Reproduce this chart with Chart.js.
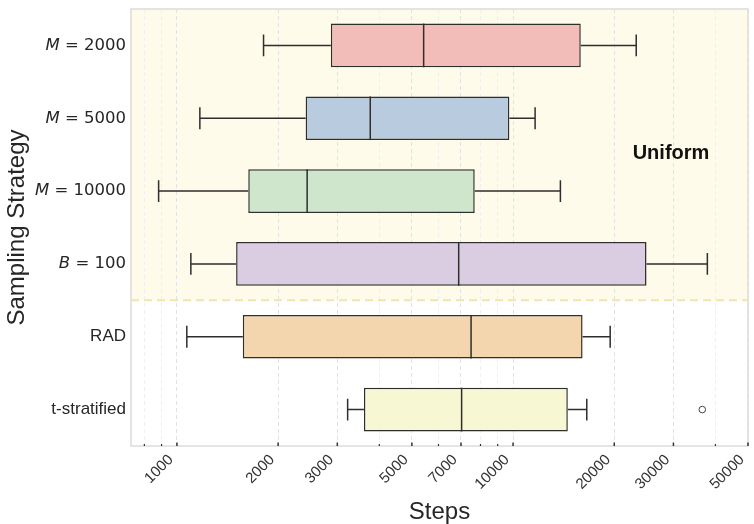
<!DOCTYPE html>
<html>
<head>
<meta charset="utf-8">
<script src="https://cdn.jsdelivr.net/npm/chart.js@4.4.1/dist/chart.umd.min.js"></script>
<style>
  html, body { margin: 0; padding: 0; background: #ffffff; }
  #wrap { width: 754px; height: 524px; position: relative; }
</style>
</head>
<body>
<div id="wrap"><canvas id="c" width="754" height="524"></canvas></div>
<script>
// ---- data ----
const categories = ["M = 2000", "M = 5000", "M = 10000", "B = 100", "RAD", "t-stratified"];
const whiskerLow  = [1810, 1170, 882, 1100, 1070, 3220];
const q1Values    = [2870, 2415, 1630, 1500, 1570, 3600];
const medianValues= [5420, 3760, 2440, 6890, 7500, 7030];
const q3Values    = [15900, 9750, 7690, 24950, 16100, 14550];
const whiskerHigh = [23250, 11630, 13830, 37850, 19450, 16570];
const outlierCats = [5];
const outlierValues = [36560];
const majorTicks = [1000, 2000, 3000, 5000, 7000, 10000, 20000, 30000, 50000];
const minorTicks = [800, 900, 4000, 6000, 8000, 9000, 40000];
const uniformCount = 4;
const boxColors = ["#f2bcb9", "#b9cbde", "#cfe6cc", "#dacde1", "#f3d5ae", "#f7f7d3"];

const allTicks = majorTicks.concat(minorTicks).sort((a,b)=>a-b);
const EDGE = "#2e2e2e";

const customPlugin = {
  id: "custom",
  beforeDraw(chart) {
    const {ctx, chartArea: a, scales: {x, y}} = chart;
    const yb = (y.getPixelForValue(uniformCount - 1) + y.getPixelForValue(uniformCount)) / 2;
    ctx.save();
    ctx.fillStyle = "#fefbea";
    ctx.fillRect(a.left, a.top, a.right - a.left, yb - a.top);
    ctx.restore();
  },
  beforeDatasetsDraw(chart) {
    const {ctx, chartArea: a, scales: {x, y}} = chart;
    const yb = (y.getPixelForValue(uniformCount - 1) + y.getPixelForValue(uniformCount)) / 2;
    ctx.save();
    ctx.strokeStyle = "#f1e4b3";
    ctx.lineWidth = 2;
    ctx.setLineDash([8, 5]);
    ctx.beginPath();
    ctx.moveTo(a.left, yb);
    ctx.lineTo(a.right, yb);
    ctx.stroke();
    ctx.setLineDash([]);
    ctx.strokeStyle = "#dcdcdc";
    ctx.lineWidth = 1.5;
    ctx.strokeRect(a.left, a.top, a.right - a.left, a.bottom - a.top);
    const meta = chart.getDatasetMeta(0);
    ctx.strokeStyle = EDGE;
    ctx.lineWidth = 1.5;
    for (let i = 0; i < categories.length; i++) {
      const bar = meta.data[i];
      const half = bar.height / 2;
      const cy = y.getPixelForValue(i);
      const xl = x.getPixelForValue(whiskerLow[i]);
      const x1 = x.getPixelForValue(q1Values[i]);
      const x3 = x.getPixelForValue(q3Values[i]);
      const xh = x.getPixelForValue(whiskerHigh[i]);
      ctx.beginPath();
      ctx.moveTo(xl, cy); ctx.lineTo(x1, cy);
      ctx.moveTo(x3, cy); ctx.lineTo(xh, cy);
      ctx.moveTo(xl, cy - half / 2); ctx.lineTo(xl, cy + half / 2);
      ctx.moveTo(xh, cy - half / 2); ctx.lineTo(xh, cy + half / 2);
      ctx.stroke();
    }
    ctx.restore();
  },
  afterDatasetsDraw(chart) {
    const {ctx, chartArea: a, scales: {x, y}} = chart;
    const meta = chart.getDatasetMeta(0);
    ctx.save();
    ctx.strokeStyle = EDGE;
    ctx.lineWidth = 1.5;
    for (let i = 0; i < categories.length; i++) {
      const bar = meta.data[i];
      const half = bar.height / 2;
      const cy = y.getPixelForValue(i);
      const xm = x.getPixelForValue(medianValues[i]);
      ctx.beginPath();
      ctx.moveTo(xm, cy - half); ctx.lineTo(xm, cy + half);
      ctx.stroke();
    }
    ctx.strokeStyle = "#444";
    ctx.lineWidth = 1;
    for (let k = 0; k < outlierValues.length; k++) {
      const px = x.getPixelForValue(outlierValues[k]);
      const py = y.getPixelForValue(outlierCats[k]);
      ctx.beginPath();
      ctx.arc(px, py, 3.3, 0, Math.PI * 2);
      ctx.stroke();
    }
    for (const t of allTicks) {
      const px = x.getPixelForValue(t);
      const major = majorTicks.includes(t);
      ctx.strokeStyle = "#333";
      ctx.lineWidth = major ? 1.5 : 1.2;
      ctx.beginPath();
      ctx.moveTo(px, a.bottom);
      ctx.lineTo(px, a.bottom - (major ? 3.5 : 2));
      ctx.stroke();
    }
    ctx.fillStyle = "#111";
    ctx.font = "bold 20px 'Liberation Sans', Arial, sans-serif";
    ctx.textAlign = "center";
    ctx.textBaseline = "alphabetic";
    ctx.fillText("Uniform", 671, 159);
    ctx.restore();
  },
  afterDraw(chart) {
    const {ctx, chartArea: a, scales: {y}} = chart;
    ctx.save();
    ctx.fillStyle = "#262626";
    ctx.textBaseline = "middle";
    for (let i = 0; i < categories.length; i++) {
      const cy = y.getPixelForValue(i);
      const label = categories[i];
      const right = a.left - 5;
      const m = label.match(/^([A-Za-z]) = (.*)$/);
      if (m) {
        ctx.font = "16.5px 'DejaVu Sans', sans-serif";
        const rest = " = " + m[2];
        const wRest = ctx.measureText(rest).width;
        ctx.textAlign = "left";
        ctx.fillText(rest, right - wRest, cy);
        ctx.font = "oblique 16.5px 'DejaVu Sans', sans-serif";
        const wV = ctx.measureText(m[1]).width;
        ctx.fillText(m[1], right - wRest - wV, cy);
      } else {
        ctx.font = "17px 'Liberation Sans', Arial, sans-serif";
        ctx.textAlign = "right";
        ctx.fillText(label, right, cy);
      }
    }
    ctx.translate(17, (a.top + a.bottom) / 2);
    ctx.rotate(-Math.PI / 2);
    ctx.font = "24px 'Liberation Sans', Arial, sans-serif";
    ctx.textAlign = "center";
    ctx.fillText("Sampling Strategy", 0, 0);
    ctx.restore();
  }
};

new Chart(document.getElementById("c"), {
  type: "bar",
  data: {
    labels: categories,
    datasets: [{
      data: q1Values.map((q, i) => [q, q3Values[i]]),
      backgroundColor: boxColors,
      borderColor: EDGE,
      borderWidth: 1.5,
      borderSkipped: false,
      barPercentage: 0.6,
      categoryPercentage: 1.0
    }]
  },
  options: {
    indexAxis: "y",
    responsive: false,
    animation: false,
    layout: { padding: { left: 131, right: 6, top: 9, bottom: 0 } },
    plugins: { legend: { display: false }, tooltip: { enabled: false } },
    scales: {
      x: {
        type: "logarithmic",
        min: 730,
        max: 50000,
        afterBuildTicks: (s) => { s.ticks = allTicks.map(v => ({ value: v })); },
        afterFit: (s) => { s.paddingLeft = 0; s.paddingRight = 0; s.height = 78; },
        ticks: {
          autoSkip: false,
          minRotation: 45,
          maxRotation: 45,
          padding: 5,
          labelOffset: -6,
          color: "#333",
          font: { family: "'Liberation Sans', Arial, sans-serif", size: 15 },
          callback: (v) => majorTicks.includes(v) ? String(v) : ""
        },
        grid: {
          drawTicks: false,
          color: (c) => (c.tick && majorTicks.includes(c.tick.value)) ? "#e2e2e2" : "#efefef",
          lineWidth: 1
        },
        border: { display: false, dash: [4, 3] },
        title: {
          display: true,
          text: "Steps",
          color: "#262626",
          font: { family: "'Liberation Sans', Arial, sans-serif", size: 24, lineHeight: 1.0 },
          padding: { top: 0, bottom: 0 }
        }
      },
      y: {
        ticks: { display: false },
        grid: { display: false, drawTicks: false },
        border: { display: false }
      }
    }
  },
  plugins: [customPlugin]
});
</script>
</body>
</html>
